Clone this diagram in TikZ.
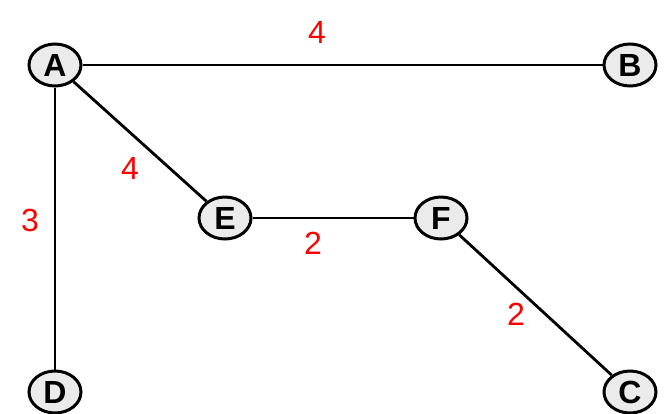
\documentclass[tikz,border=0pt]{standalone}
\usepackage{fontspec}
\setmainfont{Liberation Sans}
\usetikzlibrary{shapes.geometric}
\begin{document}
\begin{tikzpicture}[x=1pt,y=-1pt,
  vert/.style={ellipse,draw=black,line width=3pt,fill=black!8,minimum width=52pt,minimum height=42pt,inner sep=0pt,font=\fontsize{32}{32}\selectfont\bfseries},
  edge/.style={draw=black,line width=2.8pt},
  wt/.style={text=red,font=\fontsize{32}{32}\selectfont,inner sep=0pt}]
\useasboundingbox (0,0) rectangle (664,413);
\node[vert] (A) at (55,65) {A};
\node[vert] (B) at (630,65) {B};
\node[vert] (E) at (225,218) {E};
\node[vert] (F) at (441,218) {F};
\node[vert] (D) at (55,392) {D};
\node[vert] (C) at (630,392) {C};
\draw[edge] (A) -- (B);
\draw[edge] (A) -- (E);
\draw[edge] (A) -- (D);
\draw[edge] (E) -- (F);
\draw[edge] (F) -- (C);
\node[wt] (wAB) at (317,32) {4};
\node[wt] (wAE) at (130,168) {4};
\node[wt] (wAD) at (30,220) {3};
\node[wt] (wEF) at (313,243) {2};
\node[wt] (wFC) at (516,314) {2};
\end{tikzpicture}
\end{document}
